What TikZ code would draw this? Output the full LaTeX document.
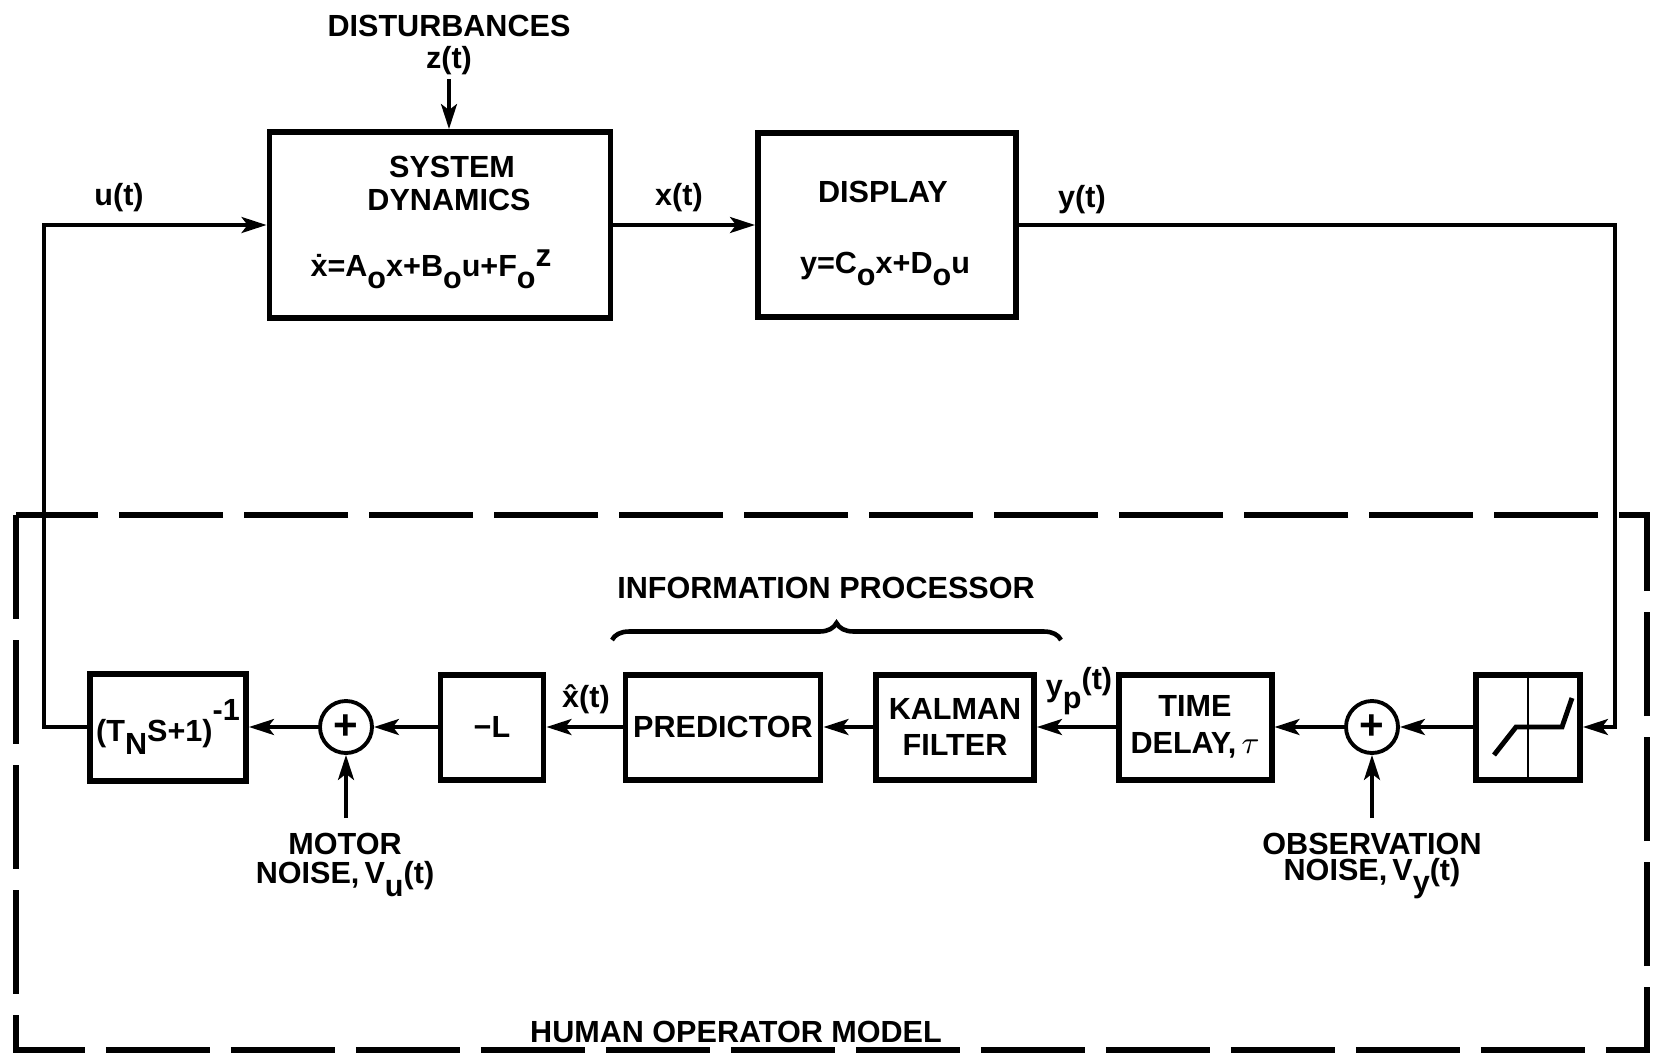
\documentclass[tikz,border=0pt]{standalone}
\usepackage{fontspec}
\setmainfont{Liberation Sans}
\usetikzlibrary{arrows.meta,decorations.pathreplacing}
\newcommand\lowsub[1]{\raisebox{-0.75ex}{#1}}
\begin{document}
\begin{tikzpicture}[x=0.1mm,y=-0.1mm,
 every node/.style={font=\fontsize{8.7}{10.5}\selectfont\bfseries},
 blk/.style={draw,line width=1.7pt,inner sep=0pt,align=center},
 sumc/.style={draw,circle,line width=1.1pt,minimum size=5.2mm,inner sep=0pt,font=\fontsize{12}{12}\selectfont\bfseries},
 conn/.style={line width=1pt},
 arr/.style={conn,-{Stealth[length=2.5mm,width=1.6mm,inset=0.6mm]}},
 lbl/.style={inner sep=0pt,align=center}]
\useasboundingbox (0,0) rectangle (1655,1055);

% top row
\node[blk,minimum width=34.1mm,minimum height=18.6mm] (sd) at (440,225) {};
\node[lbl] (sdt1) at (452,167) {SYSTEM};
\node[lbl] (sdt2) at (449,200) {DYNAMICS};
\node[lbl] (sdt3) at (431,269) {\.{x}=A\lowsub{o}x+B\lowsub{o}u+F\lowsub{o}\raisebox{0.6ex}{\small z}};

\node[blk,minimum width=25.8mm,minimum height=18.4mm] (disp) at (887,225) {};
\node[lbl] (dt1) at (883,192) {DISPLAY};
\node[lbl] (dt2) at (885,269) {y=C\lowsub{o}x+D\lowsub{o}u};

\node[lbl] (dist) at (449,26) {DISTURBANCES};
\node[lbl] (zt) at (449,61) {z(t)};
\coordinate (zs) at (449,79);
\draw[arr] (zs) -- (sd.north -| zs);

\node[lbl] (ut) at (119,198) {u(t)};
\node[lbl] (xt) at (679,198) {x(t)};
\node[lbl] (yt) at (1082,200) {y(t)};

% bottom row
\node[blk,minimum width=15.6mm,minimum height=10.7mm] (tn) at (168,727) {(T\lowsub{N}S+1)\raisebox{1.3ex}{-1}};
\node[sumc] (s1) at (346,727) {+};
\node[blk,minimum width=10.3mm,minimum height=10.5mm] (L) at (492,727) {−L};
\node[blk,minimum width=19.5mm,minimum height=10.5mm] (pred) at (723,727) {PREDICTOR};
\node[blk,minimum width=15.8mm,minimum height=10.5mm] (kal) at (955,727) {KALMAN\\FILTER};
\node[blk,minimum width=15.3mm,minimum height=10.5mm] (td) at (1195,727) {TIME\\DELAY,\,$\tau$};
\node[sumc] (s2) at (1372,727) {+};
\node[blk,minimum width=10.4mm,minimum height=10.5mm] (sat) at (1528,727) {};
\draw[line width=0.6pt] (sat.north) -- (sat.south);
\draw[line width=1.4pt] (1494,755) -- (1516,727) -- (1562,727) -- (1572,698);

% connectors
\coordinate (ul) at (44,0);
\coordinate (rl) at (1615,0);
\draw[arr] (tn.west) -- (tn.west -| ul) |- (sd.west);
\draw[arr] (sd.east) -- (disp.west);
\draw[arr] (disp.east) -- (disp.east -| rl) |- (sat.east);
\draw[arr] (sat.west) -- (s2.east);
\draw[arr] (s2.west) -- (td.east);
\draw[arr] (td.west) -- (kal.east);
\draw[arr] (kal.west) -- (pred.east);
\draw[arr] (pred.west) -- (L.east);
\draw[arr] (L.west) -- (s1.east);
\draw[arr] (s1.west) -- (tn.east);

\node[lbl] (xh) at (586,699) {\^{x}(t)};
\node[lbl] (yp) at (1079,691) {y\lowsub{p}\raisebox{0.4ex}{(t)}};

% noise inputs
\coordinate (mn) at (346,818);
\draw[arr] (mn) -- (s1.south);
\node[lbl] (mn1) at (345,844) {MOTOR};
\node[lbl] (mn2) at (345,879) {NOISE,\,V\lowsub{u}(t)};
\coordinate (on) at (1372,818);
\draw[arr] (on) -- (s2.south);
\node[lbl] (on1) at (1372,844) {OBSERVATION};
\node[lbl] (on2) at (1372,879) {NOISE,\,V\lowsub{y}(t)};

% information processor
\node[lbl] (ip) at (826,588) {INFORMATION PROCESSOR};
\draw[line width=1.3pt,decorate,decoration={brace,amplitude=1.7mm,aspect=0.5}] (612,640) -- (1061,640);

% human operator model
\draw[line width=1.8pt,dash pattern=on 10.4mm off 2.1mm] (16,515) rectangle (1647,1050);
\node[lbl] (hom) at (736,1032) {HUMAN OPERATOR MODEL};
\end{tikzpicture}
\end{document}
